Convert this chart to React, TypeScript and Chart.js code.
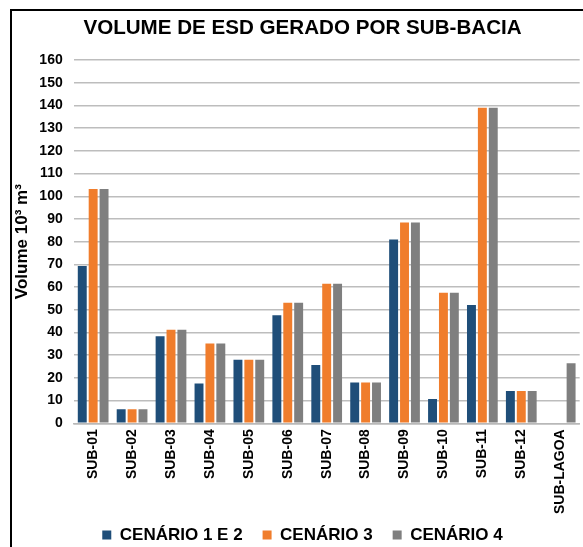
import React, { useEffect, useRef } from "react";
import { Chart, registerables } from "chart.js";

Chart.register(...registerables);

const categories = [
  "SUB-01", "SUB-02", "SUB-03", "SUB-04", "SUB-05", "SUB-06", "SUB-07",
  "SUB-08", "SUB-09", "SUB-10", "SUB-11", "SUB-12", "SUB-LAGOA",
];
const cenario12 = [69.3, 6.2, 38.3, 17.5, 28, 47.6, 25.7, 18, 81, 10.7, 52.1, 14.2, null];
const cenario3 = [103.2, 6.2, 41.2, 35.1, 28, 53.1, 61.5, 18, 88.4, 57.5, 139, 14.2, null];
const cenario4 = [103.2, 6.2, 41.2, 35.1, 28, 53.1, 61.5, 18, 88.4, 57.5, 139, 14.2, 26.4];
const seriesNames = ["CENÁRIO 1 E 2", "CENÁRIO 3", "CENÁRIO 4"];
const yMin = 0;
const yMax = 160;
const yStep = 10;
const titleText = "VOLUME DE ESD GERADO POR SUB-BACIA";
const yTitle = "Volume 10³ m³";

const FONT = "'Liberation Sans', Arial, sans-serif";
const LEGEND_LIFT = 9.5;

const legendLift = {
  id: "legendLift",
  afterLayout(chart: any) {
    const lg = chart.legend;
    if (!lg) return;
    lg.top -= LEGEND_LIFT;
    lg.bottom -= LEGEND_LIFT;
  },
};

export default function App() {
  const ref = useRef<HTMLCanvasElement | null>(null);

  useEffect(() => {
    if (!ref.current) return;
    const chart = new Chart(ref.current, {
      type: "bar",
      data: {
        labels: categories,
        datasets: [
          { label: seriesNames[0], data: cenario12, backgroundColor: "#1F4E79" },
          { label: seriesNames[1], data: cenario3, backgroundColor: "#F07D2C" },
          { label: seriesNames[2], data: cenario4, backgroundColor: "#7F7F7F" },
        ],
      },
      plugins: [legendLift],
      options: {
        responsive: false,
        animation: false,
        devicePixelRatio: 1,
        layout: { padding: { left: 22, right: 0, top: 0, bottom: 0 } },
        datasets: {
          bar: { categoryPercentage: 0.84, barPercentage: 0.82 },
        },
        plugins: {
          title: {
            display: true,
            text: titleText,
            color: "#000",
            font: { family: FONT, size: 20.6, weight: "bold" },
            padding: { top: 16, bottom: 19.3 },
          },
          legend: {
            position: "bottom",
            labels: {
              color: "#000",
              font: { family: FONT, size: 17, weight: "bold" },
              boxWidth: 9,
              boxHeight: 9,
              padding: 20,
            },
          },
          tooltip: { enabled: false },
        },
        scales: {
          x: {
            grid: { display: false, drawTicks: false },
            border: { display: true, color: "#b8b8b8", width: 1.5 },
            ticks: {
              color: "#000",
              font: { family: FONT, size: 14, weight: "bold" },
              minRotation: 90,
              maxRotation: 90,
              padding: 6,
              autoSkip: false,
            },
            afterFit: (scale: any) => {
              scale.height = 92.7;
            },
          },
          y: {
            min: yMin,
            max: yMax,
            grid: { color: "#bdbdbd", lineWidth: 1.5, drawTicks: false },
            border: { display: false },
            ticks: {
              stepSize: yStep,
              color: "#000",
              font: { family: FONT, size: 14, weight: "bold" },
              padding: 11,
            },
            title: {
              display: true,
              text: yTitle,
              color: "#000",
              font: { family: FONT, size: 17, weight: "bold" },
              padding: { top: -10, bottom: 9 },
            },
            afterFit: (scale: any) => {
              scale.width = 51.7;
            },
          },
        },
      },
    });
    return () => chart.destroy();
  }, []);

  return (
    <div
      style={{
        position: "absolute",
        left: 0,
        top: 0,
        width: 583,
        height: 547,
        overflow: "hidden",
        background: "#fff",
      }}
    >
      <div
        style={{
          position: "absolute",
          left: 10,
          top: 9,
          width: 600,
          height: 600,
          borderLeft: "2px solid #000",
          borderTop: "2px solid #000",
        }}
      />
      <canvas
        ref={ref}
        width={583}
        height={563}
        style={{ position: "absolute", left: 0, top: 0, width: 583, height: 563 }}
      />
    </div>
  );
}
